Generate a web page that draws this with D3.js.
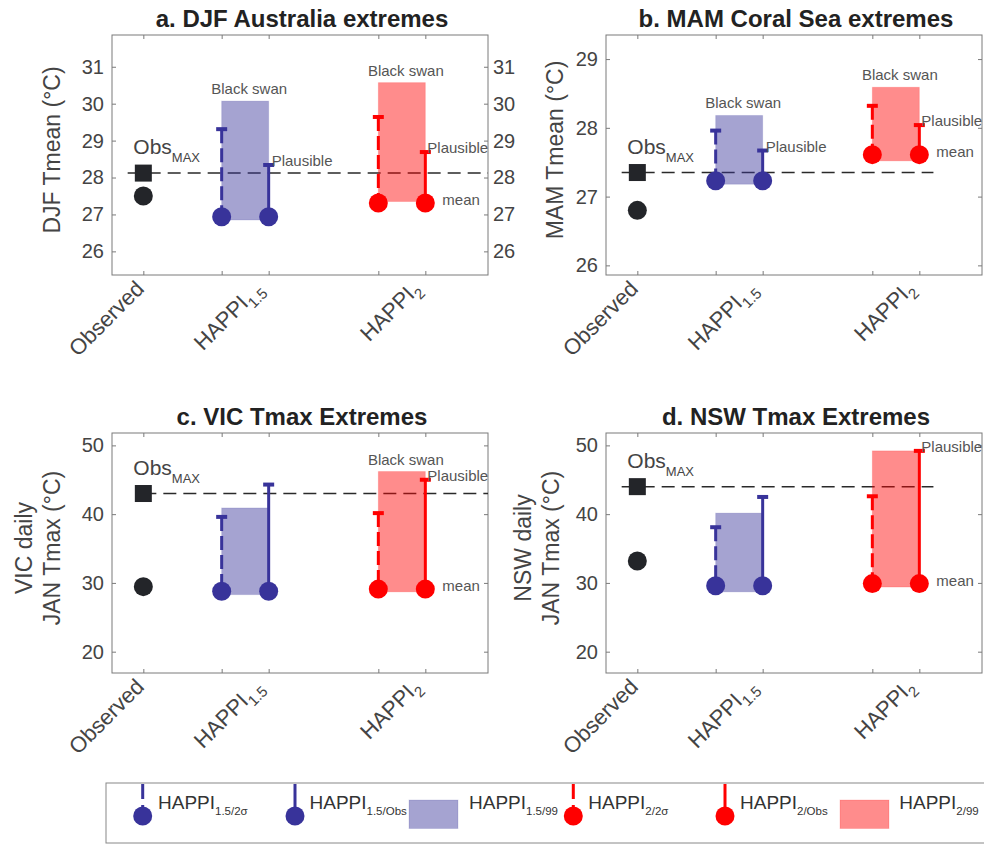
<!DOCTYPE html>
<html>
<head>
<meta charset="utf-8">
<script src="https://cdn.jsdelivr.net/npm/d3@7"></script>
<style>
  body { margin: 0; background: #fff; }
  svg { font-family: "Liberation Sans", Helvetica, Arial, sans-serif; }
</style>
</head>
<body>
<div id="chart"></div>
<script>
// ---- data ----
const panelTitles = ["a. DJF Australia extremes", "b. MAM Coral Sea extremes", "c. VIC Tmax Extremes", "d. NSW Tmax Extremes"];
const yLabels = [["DJF Tmean (°C)"], ["MAM Tmean (°C)"], ["VIC daily", "JAN Tmax (°C)"], ["NSW daily", "JAN Tmax (°C)"]];
const yDomains = [[25.36, 31.86], [25.86, 29.35], [16.9, 51.8], [16.9, 51.8]];
const yTicks = [[26, 27, 28, 29, 30, 31], [26, 27, 28, 29], [20, 30, 40, 50], [20, 30, 40, 50]];

// x positions: Observed=1, HAPPI1.5 (2σ / Obs) = 2 / 2.6, HAPPI2 (2σ / Obs) = 4 / 4.6
const xTickValues = [1, 2, 2.6, 4, 4.6];
const xLabels = [{ v: 1, main: "Observed", sub: "" }, { v: 2.52, main: "HAPPI", sub: "1.5" }, { v: 4.53, main: "HAPPI", sub: "2" }];

const obsMean = [27.5, 26.8, 29.46, 33.2];
const obsMax = [28.12, 27.35, 43.0, 44.0];
const obsLineSpan = [[0.8, 5.4], [0.8, 4.78], [1, 5.4], [0.8, 4.78]];

const h15Mean = [26.94, 27.23, 28.8, 29.6];
const h15Sigma = [29.31, 27.96, 39.6, 38.1];
const h15Obs = [28.34, 27.67, 44.3, 42.5];
const h15Box = [[26.85, 30.07], [27.18, 28.18], [28.3, 40.9], [28.7, 40.15]];

const h2Mean = [27.31, 27.61, 29.1, 29.9];
const h2Sigma = [29.64, 28.32, 40.15, 42.6];
const h2Obs = [28.69, 28.04, 45.0, 49.2];
const h2Box = [[27.35, 30.57], [27.52, 28.59], [28.7, 46.2], [29.4, 49.2]];

// which annotation labels appear in each panel
const showBlackSwan15 = [true, true, false, false];
const showBlackSwan2 = [true, true, true, false];
const showPlausible15 = [true, true, false, false];
const showPlausible2 = [true, true, true, true];

// ---- style ----
const blue = "#38339a", red = "#ff0000", black = "#232529";
const textGray = "#444", annGray = "#555", boxGray = "#7a7a7a";
const width = 984, height = 844;

const svg = d3.select("#chart").append("svg").attr("width", width).attr("height", height);

const panelLeft = [112, 606, 112, 606];
const panelTop = [35, 35, 433, 433];
const panelW = 376, panelH = 240;
const yLabelX = [60, 563, 60, 559];

function whisker(g, x, yTop, yMean, color, dashed) {
    g.append("line")
        .attr("x1", x).attr("x2", x).attr("y1", yTop).attr("y2", yMean)
        .attr("stroke", color).attr("stroke-width", 3)
        .attr("stroke-dasharray", dashed ? "14,5" : null);
    g.append("line")
        .attr("x1", x - 5.5).attr("x2", x + 5.5).attr("y1", yTop).attr("y2", yTop)
        .attr("stroke", color).attr("stroke-width", 4);
}

panelTitles.forEach((title, i) => {
    const left = panelLeft[i], top = panelTop[i];
    const right = left + panelW, bottom = top + panelH;

    const x = d3.scaleLinear().domain([0.6, 5.4]).range([left, right]);
    const y = d3.scaleLinear().domain(yDomains[i]).range([bottom, top]);

    const g = svg.append("g");

    // axes (ticks inward, box on)
    const styleAxis = sel => {
        sel.select(".domain").remove();
        sel.selectAll(".tick line").attr("stroke", boxGray);
        sel.selectAll(".tick text").attr("fill", textGray).attr("font-size", 20);
    };
    g.append("g").attr("transform", `translate(${left},0)`)
        .call(d3.axisLeft(y).tickValues(yTicks[i]).tickSizeInner(-4).tickSizeOuter(0).tickPadding(8).tickFormat(d3.format("d")))
        .call(styleAxis);
    const rightAxis = d3.axisRight(y).tickValues(yTicks[i]).tickSizeInner(-4).tickSizeOuter(0).tickPadding(5)
        .tickFormat(i === 0 ? d3.format("d") : "");
    g.append("g").attr("transform", `translate(${right},0)`).call(rightAxis).call(styleAxis);
    g.append("g").attr("transform", `translate(0,${top})`)
        .call(d3.axisTop(x).tickValues(xTickValues).tickSizeInner(-4).tickSizeOuter(0).tickFormat(""))
        .call(styleAxis);
    g.append("g").attr("transform", `translate(0,${bottom})`)
        .call(d3.axisBottom(x).tickValues(xTickValues).tickSizeInner(-4).tickSizeOuter(0).tickFormat(""))
        .call(styleAxis);

    g.append("rect").attr("x", left).attr("y", top).attr("width", panelW).attr("height", panelH)
        .attr("fill", "none").attr("stroke", boxGray).attr("stroke-width", 1);

    // rotated x labels
    xLabels.forEach(l => {
        const t = g.append("text")
            .attr("transform", `translate(${x(l.v) + 2},${bottom + 15}) rotate(-45)`)
            .attr("text-anchor", "end").attr("fill", textGray).attr("font-size", 22);
        t.append("tspan").text(l.main);
        if (l.sub) t.append("tspan").attr("font-size", 15).attr("dy", 6).text(l.sub);
    });

    // title
    g.append("text").attr("x", (left + right) / 2 + 2).attr("y", top - 8.5)
        .attr("text-anchor", "middle").attr("font-weight", "bold").attr("font-size", 24)
        .attr("fill", "#222").text(title);

    // y label
    const lines = yLabels[i];
    lines.forEach((line, k) => {
        const bx = yLabelX[i] - (lines.length - 1 - k) * 28;
        g.append("text")
            .attr("transform", `translate(${bx},${(top + bottom) / 2 - 5}) rotate(-90)`)
            .attr("text-anchor", "middle").attr("fill", textGray).attr("font-size", 23)
            .text(line);
    });

    // plot area clip
    const clipId = "clip" + i;
    svg.append("clipPath").attr("id", clipId).append("rect")
        .attr("x", left).attr("y", top).attr("width", panelW).attr("height", panelH);
    const p = g.append("g").attr("clip-path", `url(#${clipId})`);

    // observed maximum reference line
    p.append("line")
        .attr("x1", x(obsLineSpan[i][0])).attr("x2", x(obsLineSpan[i][1]))
        .attr("y1", y(obsMax[i])).attr("y2", y(obsMax[i]))
        .attr("stroke", "#2a2a2a").attr("stroke-width", 1.5).attr("stroke-dasharray", "13,7");

    // 99th percentile boxes
    [[h15Box[i], 2, 2.6, blue], [h2Box[i], 4, 4.6, red]].forEach(([b, x0, x1, c]) => {
        p.append("rect")
            .attr("x", x(x0)).attr("y", y(b[1]))
            .attr("width", x(x1) - x(x0)).attr("height", y(b[0]) - y(b[1]))
            .attr("fill", c).attr("fill-opacity", 0.45)
            .attr("stroke", c).attr("stroke-opacity", 0.15);
    });

    // whiskers
    whisker(p, x(2), y(h15Sigma[i]), y(h15Mean[i]), blue, true);
    whisker(p, x(2.6), y(h15Obs[i]), y(h15Mean[i]), blue, false);
    whisker(p, x(4), y(h2Sigma[i]), y(h2Mean[i]), red, true);
    whisker(p, x(4.6), y(h2Obs[i]), y(h2Mean[i]), red, false);

    // circles (means)
    [[2, h15Mean[i], blue], [2.6, h15Mean[i], blue], [4, h2Mean[i], red], [4.6, h2Mean[i], red], [1, obsMean[i], black]]
        .forEach(([xv, yv, c]) => {
            p.append("circle").attr("cx", x(xv)).attr("cy", y(yv)).attr("r", 9.5).attr("fill", c);
        });

    // observed max square
    p.append("rect").attr("x", x(1) - 8.5).attr("y", y(obsMax[i]) - 8.5)
        .attr("width", 17).attr("height", 17).attr("fill", black);

    // annotations
    const ann = (tx, ty, txt, anchor) => g.append("text").attr("x", tx).attr("y", ty)
        .attr("text-anchor", anchor || "start").attr("fill", annGray).attr("font-size", 15).text(txt);

    if (showBlackSwan15[i]) ann((x(2) + x(2.6)) / 2 + 4, y(h15Box[i][1]) - 7, "Black swan", "middle");
    if (showBlackSwan2[i]) ann((x(4) + x(4.6)) / 2 + 4, y(h2Box[i][1]) - 7, "Black swan", "middle");
    if (showPlausible15[i]) ann(x(2.6) + 3, y(h15Obs[i]) + 1, "Plausible");
    if (showPlausible2[i]) ann(x(4.6) + 2, y(h2Obs[i]) + 1, "Plausible");
    ann(x(4.6) + 17, y(h2Mean[i]) + 2, "mean");

    const om = g.append("text").attr("x", x(1) - 10).attr("y", y(obsMax[i]) - 19)
        .attr("fill", textGray).attr("font-size", 21);
    om.append("tspan").text("Obs");
    om.append("tspan").attr("font-size", 13).attr("dy", 8).text("MAX");
});

// ---- legend ----
const legendItems = [
    { kind: "stem", color: blue, dashed: true, sub: "1.5/2σ" },
    { kind: "stem", color: blue, dashed: false, sub: "1.5/Obs" },
    { kind: "box", color: blue, sub: "1.5/99" },
    { kind: "stem", color: red, dashed: true, sub: "2/2σ" },
    { kind: "stem", color: red, dashed: false, sub: "2/Obs" },
    { kind: "box", color: red, sub: "2/99" }
];
const legendIconX = [142.7, 295, 409, 573.3, 725, 840];
const legendTextX = [158, 309.5, 469, 588.3, 740, 899.3];

const lg = svg.append("g");
lg.append("rect").attr("x", 106).attr("y", 783).attr("width", 890).attr("height", 60)
    .attr("fill", "#fff").attr("stroke", "#888").attr("stroke-width", 1);

legendItems.forEach((d, k) => {
    const ix = legendIconX[k];
    if (d.kind === "stem") {
        lg.append("line").attr("x1", ix).attr("x2", ix).attr("y1", 784).attr("y2", 815)
            .attr("stroke", d.color).attr("stroke-width", 3)
            .attr("stroke-dasharray", d.dashed ? "15,6" : null);
        lg.append("circle").attr("cx", ix).attr("cy", 816).attr("r", 9.5).attr("fill", d.color);
    } else {
        lg.append("rect").attr("x", ix).attr("y", 800).attr("width", 49).attr("height", 28.5)
            .attr("fill", d.color).attr("fill-opacity", 0.45)
            .attr("stroke", d.color).attr("stroke-opacity", 0.15);
    }
    const t = lg.append("text").attr("x", legendTextX[k]).attr("y", 809)
        .attr("fill", "#333").attr("font-size", 19);
    t.append("tspan").text("HAPPI");
    t.append("tspan").attr("font-size", 11.5).attr("dy", 6).text(d.sub);
});
</script>
</body>
</html>
